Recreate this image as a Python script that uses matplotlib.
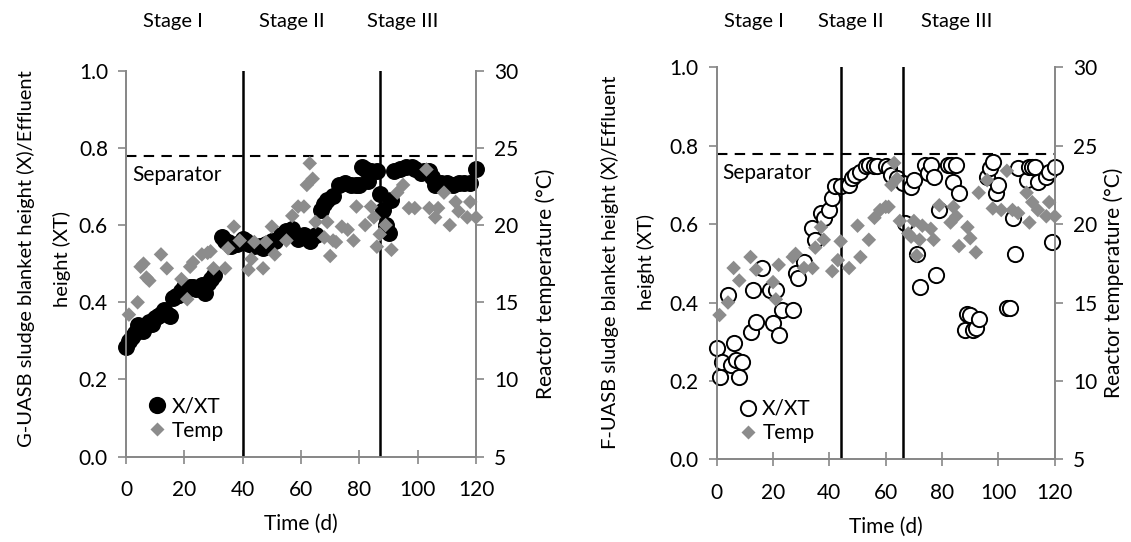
import matplotlib
matplotlib.use("Agg")
import matplotlib.pyplot as plt
from matplotlib.lines import Line2D

plt.rcParams['font.family'] = ['Lato', 'DejaVu Sans']
plt.rcParams['font.size'] = 15

# G-UASB (left panel)
g_day = [0, 1, 2, 3, 4, 5, 6, 7, 8, 9, 10, 11, 12, 13, 14, 15, 16, 17, 18, 19, 20,
         21, 22, 23, 24, 26, 27, 28, 29, 30, 33, 34, 35, 36, 38, 40, 41, 42, 44, 46,
         47, 48, 50, 51, 53, 55, 57, 58, 59, 61, 62, 63, 65, 67, 68, 69, 71, 73, 75,
         77, 79, 80, 81, 82, 83, 84, 86, 87, 88, 89, 90, 91, 92, 94, 96, 98, 99, 101,
         102, 104, 105, 106, 108, 110, 112, 114, 116, 118, 120]
g_xxt = [0.285, 0.30, 0.31, 0.32, 0.34, 0.33, 0.325, 0.34, 0.35, 0.345, 0.36, 0.365,
         0.37, 0.38, 0.37, 0.365, 0.41, 0.415, 0.42, 0.43, 0.44, 0.435, 0.44, 0.44,
         0.435, 0.445, 0.425, 0.45, 0.46, 0.47, 0.57, 0.56, 0.555, 0.545, 0.55, 0.565,
         0.56, 0.55, 0.545, 0.545, 0.54, 0.55, 0.56, 0.56, 0.575, 0.585, 0.59, 0.575,
         0.565, 0.575, 0.57, 0.56, 0.575, 0.64, 0.655, 0.665, 0.675, 0.705, 0.71,
         0.705, 0.705, 0.705, 0.75, 0.745, 0.715, 0.74, 0.74, 0.68, 0.64, 0.60, 0.58,
         0.665, 0.74, 0.745, 0.75, 0.75, 0.745, 0.735, 0.74, 0.74, 0.725, 0.705, 0.71,
         0.71, 0.705, 0.71, 0.71, 0.71, 0.745]
g_tday = [1, 4, 5, 6, 7, 8, 12, 14, 19, 21, 22, 23, 26, 28, 29, 30, 34, 35, 37, 39,
          42, 43, 44, 47, 48, 50, 51, 55, 57, 59, 61, 62, 63, 64, 65, 68, 69, 70, 71,
          72, 74, 76, 78, 79, 82, 84, 85, 86, 87, 89, 91, 93, 95, 97, 99, 103, 104,
          106, 107, 109, 111, 113, 114, 117, 118, 120]
g_temp = [14.2, 15.0, 17.3, 17.5, 16.6, 16.4, 18.1, 17.2, 16.5, 15.2, 17.3, 17.6,
          18.1, 18.2, 18.3, 17.2, 17.2, 18.5, 19.9, 19.0, 17.1, 17.8, 18.9, 17.2,
          18.9, 19.9, 18.1, 19.0, 20.6, 21.2, 21.2, 22.6, 24.0, 23.0, 20.2, 19.2,
          20.2, 18.0, 19.0, 18.9, 19.9, 19.7, 19.0, 21.2, 20.0, 21.2, 20.5, 18.6,
          19.4, 20.0, 18.4, 22.1, 22.6, 21.1, 21.1, 23.6, 21.1, 20.5, 21.1, 22.1,
          20.0, 21.5, 20.9, 20.5, 21.5, 20.5]

# F-UASB (right panel)
f_day = [0, 1, 2, 4, 5, 6, 7, 8, 9, 12, 13, 14, 16, 19, 20, 21, 22, 23, 27, 28, 29,
         31, 34, 35, 37, 38, 40, 41, 42, 44, 47, 48, 49, 51, 53, 54, 56, 57, 60, 61,
         62, 64, 66, 67, 69, 70, 71, 72, 74, 75, 76, 77, 78, 79, 82, 83, 84, 85, 86,
         88, 89, 90, 91, 92, 93, 96, 97, 98, 99, 100, 103, 104, 105, 106, 107, 110,
         111, 112, 113, 114, 117, 118, 119, 120]
f_xxt = [0.283, 0.211, 0.249, 0.419, 0.241, 0.296, 0.253, 0.211, 0.249, 0.326, 0.432,
         0.351, 0.487, 0.432, 0.347, 0.432, 0.317, 0.381, 0.381, 0.474, 0.462, 0.504,
         0.589, 0.560, 0.628, 0.615, 0.636, 0.666, 0.696, 0.696, 0.700, 0.717, 0.725,
         0.734, 0.747, 0.751, 0.748, 0.748, 0.747, 0.742, 0.725, 0.717, 0.704, 0.604,
         0.695, 0.713, 0.525, 0.440, 0.751, 0.730, 0.751, 0.721, 0.470, 0.636, 0.751,
         0.751, 0.708, 0.751, 0.679, 0.330, 0.370, 0.368, 0.330, 0.335, 0.358, 0.721,
         0.742, 0.759, 0.679, 0.700, 0.385, 0.385, 0.615, 0.523, 0.742, 0.713, 0.746,
         0.746, 0.746, 0.708, 0.721, 0.734, 0.555, 0.746]
f_tday = [1, 4, 6, 8, 12, 14, 20, 21, 22, 27, 28, 31, 34, 35, 37, 38, 41, 43, 44, 47,
          50, 51, 54, 56, 58, 60, 61, 62, 63, 64, 65, 68, 69, 70, 71, 72, 73, 76, 77,
          79, 83, 84, 85, 86, 89, 90, 92, 93, 96, 98, 101, 103, 105, 107, 110, 111,
          112, 114, 117, 118, 120]
f_temp = [14.2, 15.0, 17.2, 16.4, 17.9, 17.1, 16.3, 15.2, 17.4, 17.9, 18.1, 17.2,
          17.2, 18.5, 19.8, 19.0, 17.0, 17.7, 18.9, 17.2, 19.9, 17.9, 19.0, 20.4,
          20.9, 21.1, 21.1, 22.5, 23.9, 22.9, 20.2, 19.4, 19.2, 20.2, 18.0, 19.0,
          19.9, 19.7, 19.0, 21.2, 20.1, 21.1, 20.5, 18.6, 19.8, 19.1, 18.2, 22.0,
          22.8, 21.0, 20.9, 23.4, 20.9, 20.7, 22.0, 20.1, 21.4, 20.9, 20.5, 21.4, 20.5]

stage_lines_g = [40, 87]
stage_lines_f = [44, 66]
separator = 0.78
stage_names = ['Stage I', 'Stage II', 'Stage III']

grey = '#888888'
diamond = '#8c8c8c'

fig = plt.figure(figsize=(11.31, 5.42), dpi=100)
ax_g = fig.add_axes([0.1114, 0.1574, 0.3095, 0.7122])
ax_f = fig.add_axes([0.6337, 0.1526, 0.2989, 0.7232])


def setup(ax, day, xxt, tday, temp, lines, filled):
    if filled:
        ax.scatter(day, xxt, s=125, c='black', edgecolors='black', linewidths=1,
                   zorder=3, clip_on=False)
    else:
        ax.scatter(day, xxt, s=120, c='white', edgecolors='black', linewidths=1.4,
                   zorder=3, clip_on=False)
    for d in lines:
        ax.axvline(d, color='black', lw=1.8, zorder=4)
    ax.plot([0, 120], [separator, separator], color='black', lw=1.5, ls=(0, (5, 3.5)), zorder=2)
    ax.set_xlim(0, 120)
    ax.set_ylim(0, 1.0)
    ax.set_xticks(range(0, 121, 20))
    ax.set_yticks([0, 0.2, 0.4, 0.6, 0.8, 1.0])
    ax.set_yticklabels(['0.0', '0.2', '0.4', '0.6', '0.8', '1.0'])
    ax.set_xlabel('Time (d)', labelpad=10)

    ax2 = ax.twinx()
    ax2.scatter(tday, temp, s=55, marker='D', c=diamond, edgecolors='none', zorder=3,
                clip_on=False)
    ax2.set_ylim(5, 30)
    ax2.set_yticks(range(5, 31, 5))

    for a in (ax, ax2):
        a.spines['top'].set_visible(False)
        for s in ('left', 'bottom', 'right'):
            a.spines[s].set_color(grey)
            a.spines[s].set_linewidth(1.3)
        a.tick_params(axis='y', direction='out', length=6, width=1.2, color=grey, pad=7)
    ax.tick_params(axis='x', direction='inout', length=10, width=1.2, color=grey, pad=12)
    ax.text(2, separator - 0.05, 'Separator', fontsize=15, va='center', ha='left')

    h = [Line2D([], [], ls='none', marker='o', ms=11, mfc='black' if filled else 'white',
                mec='black', mew=1.4),
         Line2D([], [], ls='none', marker='D', ms=7.5, mfc=diamond, mec='none')]
    ax2.legend(h, ['X/XT', 'Temp'], loc='lower left', bbox_to_anchor=(0.03, 0.02),
               frameon=False, handletextpad=0.1, handlelength=1.2, labelspacing=0.2,
               fontsize=15, borderaxespad=0)
    return ax2


setup(ax_g, g_day, g_xxt, g_tday, g_temp, stage_lines_g, True)
setup(ax_f, f_day, f_xxt, f_tday, f_temp, stage_lines_f, False)

# y labels
fig.text(26 / 1131, 1 - 259 / 542, 'G-UASB sludge blanket height (X)/Effluent',
         rotation=90, ha='center', va='center', fontsize=14.5)
fig.text(62 / 1131, 1 - 259 / 542, 'height (XT)', rotation=90, ha='center', va='center',
         fontsize=14.5)
fig.text(610 / 1131, 1 - 262 / 542, 'F-UASB sludge blanket height (X)/Effluent',
         rotation=90, ha='center', va='center', fontsize=14.5)
fig.text(646 / 1131, 1 - 262 / 542, 'height (XT)', rotation=90, ha='center', va='center',
         fontsize=14.5)
fig.text(546 / 1131, 1 - 284 / 542, 'Reactor temperature (°C)', rotation=90,
         ha='center', va='center', fontsize=15)
fig.text(1114 / 1131, 1 - 283 / 542, 'Reactor temperature (°C)', rotation=90,
         ha='center', va='center', fontsize=15)

# stage titles
for xc, s in zip([173, 292, 403], stage_names):
    fig.text(xc / 1131, 1 - 22 / 542, s, ha='center', va='center', fontsize=14.5)
for xc, s in zip([754, 851, 957], stage_names):
    fig.text(xc / 1131, 1 - 22 / 542, s, ha='center', va='center', fontsize=14.5)

fig.savefig('out.png', dpi=100)
